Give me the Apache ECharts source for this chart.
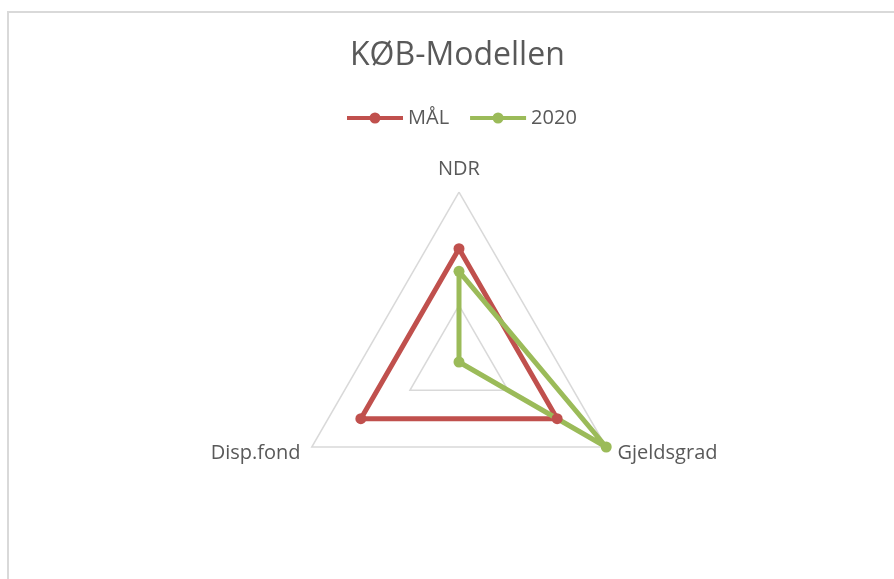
<!DOCTYPE html>
<html>
<head>
<meta charset="utf-8">
<script src="https://cdn.jsdelivr.net/npm/echarts@6/dist/echarts.min.js"></script>
<style>
html,body{margin:0;padding:0;background:#fff;}
#chart{width:894px;height:579px;}
</style>
</head>
<body>
<div id="chart"></div>
<script>
var indicators = ['NDR', 'Disp.fond', 'Gjeldsgrad'];
var seriesNames = ['MÅL', '2020'];
var malValues = [2, 2, 2];
var values2020 = [1.6, 0, 3];
var axisMin = 0;
var axisMax = 3;

var chart = echarts.init(document.getElementById('chart'));
var font = 'Open Sans';
var lineDotIcon = 'path://M0,4L56,4L56,8L0,8Z M22.5,6A5.5,5.5 0 1,1 33.5,6A5.5,5.5 0 1,1 22.5,6Z';
chart.setOption({
  backgroundColor: '#fff',
  animation: false,
  graphic: [{
    type: 'rect',
    shape: {x: 8, y: 12, width: 1000, height: 1000},
    style: {fill: 'none', stroke: '#d9d9d9', lineWidth: 2},
    silent: true
  }],
  title: {
    text: 'KØB-Modellen',
    left: 345,
    top: 35,
    textStyle: {fontFamily: font, fontSize: 32, fontWeight: 'normal', color: '#595959'}
  },
  legend: {
    top: 103,
    left: 342,
    itemWidth: 56,
    itemHeight: 11,
    itemGap: 21,
    textStyle: {fontFamily: font, fontSize: 20, color: '#595959'},
    data: seriesNames.map(function (n) { return {name: n, icon: lineDotIcon}; })
  },
  radar: {
    center: [459, 362],
    radius: 170,
    startAngle: 90,
    splitNumber: 3,
    shape: 'polygon',
    nameGap: 13,
    axisName: {fontFamily: font, fontSize: 20, color: '#595959'},
    indicator: indicators.map(function (n) { return {name: n, min: axisMin, max: axisMax}; }),
    splitLine: {lineStyle: {color: '#d9d9d9', width: 1.5}},
    splitArea: {show: false},
    axisLine: {show: false},
    axisTick: {show: false},
    axisLabel: {show: false}
  },
  series: [{
    type: 'radar',
    symbol: 'circle',
    symbolSize: 11,
    data: [
      {name: seriesNames[0], value: malValues,
       lineStyle: {color: '#C0504D', width: 5},
       itemStyle: {color: '#C0504D'}},
      {name: seriesNames[1], value: values2020,
       lineStyle: {color: '#9BBB59', width: 5},
       itemStyle: {color: '#9BBB59'}}
    ]
  }]
});
</script>
</body>
</html>
